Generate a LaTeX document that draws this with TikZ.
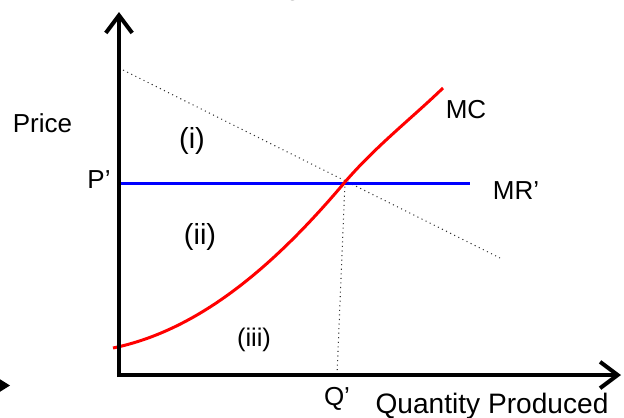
\documentclass[tikz,border=0pt]{standalone}
\usepackage{fontspec}
\setmainfont{Liberation Sans}
\usetikzlibrary{arrows.meta}

\begin{document}
\begin{tikzpicture}[
		x=0.02cm, y=-0.02cm,
		every node/.style={inner sep=0pt, font=\fontsize{14.8}{17}\selectfont},
		axis/.style={line width=2.3pt, -{Straight Barb[length=10pt, width=15pt]}},
		demand/.style={line width=0.6pt, dash pattern=on 0.6pt off 2pt, black!80},
		mccurve/.style={line width=1.7pt, draw=red},
		mrline/.style={line width=1.7pt, draw=blue},
		region/.style={font=\fontsize{16.5}{19}\selectfont}
	]
	\useasboundingbox (0,0) rectangle (624,417);

	% Points
	\coordinate (origin) at (119,375);
	\coordinate (ytip) at (119,12);
	\coordinate (xtip) at (621,375);
	\coordinate (dtop) at (119,68);
	\coordinate (dbot) at (500,258);
	\coordinate (mrstart) at (119,183);
	\coordinate (mrend) at (470,183);
	\coordinate (eq) at (345,182);
	\coordinate (qfoot) at (337,375);
	\coordinate (mcstart) at (113,348);
	\coordinate (mcend) at (443,88);

	% Labels
	\node[anchor=base] (price) at (42.5,132) {Price};
	\node[anchor=base] (pprime) at (99,188) {P’};
	\node[region] (regioni) at (192,141) {(i)};
	\node[region] (regionii) at (200,237) {(ii)};
	\node[font=\fontsize{14.5}{17}\selectfont] (regioniii) at (254,340) {(iii)};
	\node[anchor=base] (mc) at (466,118) {MC};
	\node[anchor=base] (mr) at (516,199) {MR’};
	\node[anchor=base] (qprime) at (337,405) {Q’};
	\node[anchor=base, font=\fontsize{16}{19}\selectfont] (quantity) at (492,413) {Quantity Produced};
	\node[anchor=base, font=\fontsize{17}{20}\selectfont] (title) at (293,-5.5) {g};

	% Lines
	\draw[demand] (dtop) -- (dbot);
	\draw[demand] (eq) -- (qfoot);
	\draw[mrline] (mrstart) -- (mrend);
	\draw[mccurve] (mcstart) .. controls (200,330) and (275,265) .. (eq)
		.. controls (376,146) and (412,118) .. (mcend);

	% Axes
	\draw[axis] ([yshift=-1.15pt]origin) -- (ytip);
	\draw[axis] ([xshift=-1.15pt]origin) -- (xtip);
	\fill (-2,378) -- (10,385.5) -- (-2,393) -- cycle;

\end{tikzpicture}
\end{document}
